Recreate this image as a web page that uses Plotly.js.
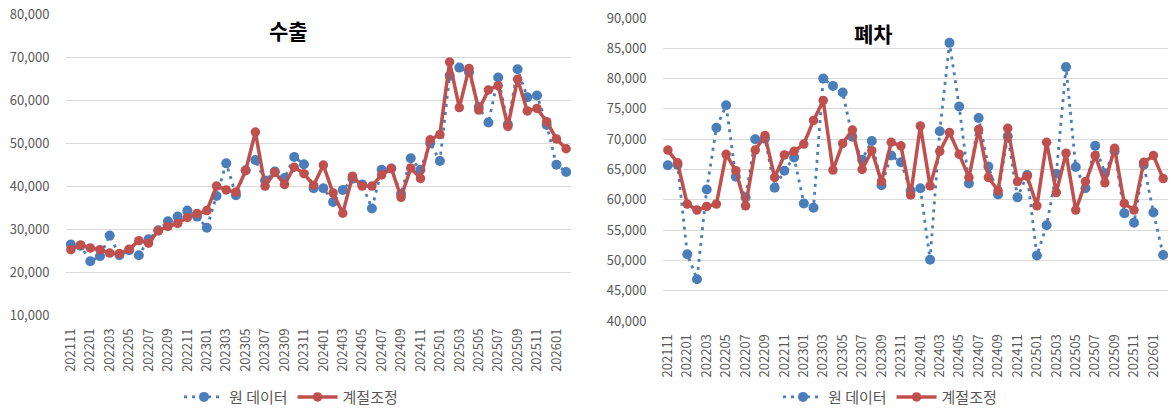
<!DOCTYPE html>
<html><head><meta charset="utf-8">
<script src="https://cdn.plot.ly/plotly-3.0.1.min.js"></script>
<style>html,body{margin:0;padding:0;background:#fff}#chart{width:1171px;height:414px}</style>
</head><body><div id="chart"></div>
<script>
var months = ["202111","202112","202201","202202","202203","202204","202205","202206","202207","202208","202209","202210","202211","202212",
"202301","202302","202303","202304","202305","202306","202307","202308","202309","202310","202311","202312",
"202401","202402","202403","202404","202405","202406","202407","202408","202409","202410","202411","202412",
"202501","202502","202503","202504","202505","202506","202507","202508","202509","202510","202511","202512",
"202601","202602"];
var tickLabels = ["202111","202201","202203","202205","202207","202209","202211","202301","202303","202305","202307","202309","202311",
"202401","202403","202405","202407","202409","202411","202501","202503","202505","202507","202509","202511","202601"];

var exportRaw = [26500,26200,22600,23800,28600,24000,25200,24000,27700,29800,31900,33000,34400,33000,
30400,37800,45400,38000,43800,46200,41400,43500,42000,46900,45200,39600,
39600,36400,39200,41800,40500,34900,43900,44200,38300,46600,43900,50150,
45950,65800,67700,66600,58500,54900,65400,54500,67300,60800,61200,54350,45100,43400];
var exportSA = [25300,26400,25700,25300,24500,24400,25400,27400,26800,29700,30700,31400,32800,33700,
34400,40100,39200,38700,43700,52700,40100,43300,40500,44500,43000,40300,
45000,38500,33800,42400,40100,40100,42700,44200,37500,44300,41900,50900,
52100,69000,58400,67500,57800,62500,63500,54000,65000,57600,58200,55100,51100,48800];

var scrapRaw = [65700,65800,51000,46900,61700,71900,75600,63800,60400,70000,70100,62000,64800,67000,
59400,58700,80000,78800,77700,70400,66600,69700,62400,67300,66200,61500,
61900,50100,71300,85900,75400,62700,73500,65500,60900,70500,60400,64100,
50800,55800,64300,81900,65400,61900,68900,64400,68000,57800,56200,65800,57900,50900];
var scrapSA = [68200,66100,59300,58300,58900,59300,67500,64800,59000,68200,70600,63700,67400,68000,
69200,73100,76400,64900,69300,71500,65000,68100,63000,69500,68900,60800,
72200,62300,68000,71100,67500,63700,71600,63700,61500,71800,63000,63900,
59000,69500,61200,67700,58300,63000,67300,62800,68500,59400,58300,66200,67300,63500];

var seriesNames = ["원 데이터","계절조정"];
var titles = ["수출","폐차"];

var BLUE = "#4a7ebb", RED = "#c0504d";
var FONT = "Noto Sans CJK KR, Noto Sans, sans-serif";

function rawTrace(y, xa, ya, lg){
  return {x: months, y: y, xaxis: xa, yaxis: ya, legend: lg, name: seriesNames[0], type: "scatter",
    mode: "lines+markers", line: {color: BLUE, width: 2.8, dash: "3px,5px"},
    marker: {color: BLUE, size: 10}};
}
function saTrace(y, xa, ya, lg){
  return {x: months, y: y, xaxis: xa, yaxis: ya, legend: lg, name: seriesNames[1], type: "scatter",
    mode: "lines+markers", line: {color: RED, width: 3.5},
    marker: {color: RED, size: 9.5}};
}

var data = [
  rawTrace(exportRaw, "x", "y", "legend"),
  saTrace(exportSA, "x", "y", "legend"),
  rawTrace(scrapRaw, "x2", "y2", "legend2"),
  saTrace(scrapSA, "x2", "y2", "legend2")
];

function xax(domain, anchor){
  return {domain: domain, anchor: anchor, type: "category", tickmode: "array", tickvals: tickLabels, ticktext: tickLabels,
    tickangle: -90, showgrid: false, zeroline: false, showline: false, ticks: "outside", ticklen: 7, tickcolor: "rgba(0,0,0,0)",
    tickfont: {family: FONT, size: 13, color: "#595959"}, range: [-0.5, months.length - 0.5], fixedrange: true};
}
function yax(domain, anchor, range, dtick){
  return {domain: domain, anchor: anchor, range: range, dtick: dtick, tick0: 0, tickformat: ",d",
    showgrid: true, gridcolor: "#d9d9d9", gridwidth: 1, zeroline: false, showline: false,
    ticks: "outside", ticklen: 13, tickcolor: "rgba(0,0,0,0)",
    tickfont: {family: FONT, size: 13, color: "#595959"}, fixedrange: true};
}

var layout = {
  width: 1171, height: 414,
  margin: {l: 0, r: 0, t: 0, b: 0},
  paper_bgcolor: "#ffffff", plot_bgcolor: "#ffffff",
  font: {family: FONT, color: "#595959"},
  xaxis: xax([66/1171, 571/1171], "y"),
  yaxis: yax([(414-320)/414, (414-15)/414], "x", [10000, 80000], 10000),
  xaxis2: xax([663/1171, 1168/1171], "y2"),
  yaxis2: yax([(414-325.7)/414, (414-18.3)/414], "x2", [40000, 90000], 5000),
  legend: {orientation: "h", x: 291/1171, xanchor: "center", y: 11/414, yanchor: "middle",
    font: {family: FONT, size: 15, color: "#595959"}, bgcolor: "rgba(0,0,0,0)", itemwidth: 40},
  legend2: {orientation: "h", x: 890/1171, xanchor: "center", y: 11/414, yanchor: "middle",
    font: {family: FONT, size: 15, color: "#595959"}, bgcolor: "rgba(0,0,0,0)", itemwidth: 40},
  annotations: [
    {text: "<b>" + titles[0] + "</b>", x: 288/1171, y: (414-30)/414, xref: "paper", yref: "paper",
      xanchor: "center", yanchor: "middle", showarrow: false, font: {family: FONT, size: 21, color: "#000000"}},
    {text: "<b>" + titles[1] + "</b>", x: 873/1171, y: (414-33)/414, xref: "paper", yref: "paper",
      xanchor: "center", yanchor: "middle", showarrow: false, font: {family: FONT, size: 21, color: "#000000"}}
  ],
  showlegend: true
};

Plotly.newPlot("chart", data, layout, {displayModeBar: false, staticPlot: true});
</script>
</body></html>
